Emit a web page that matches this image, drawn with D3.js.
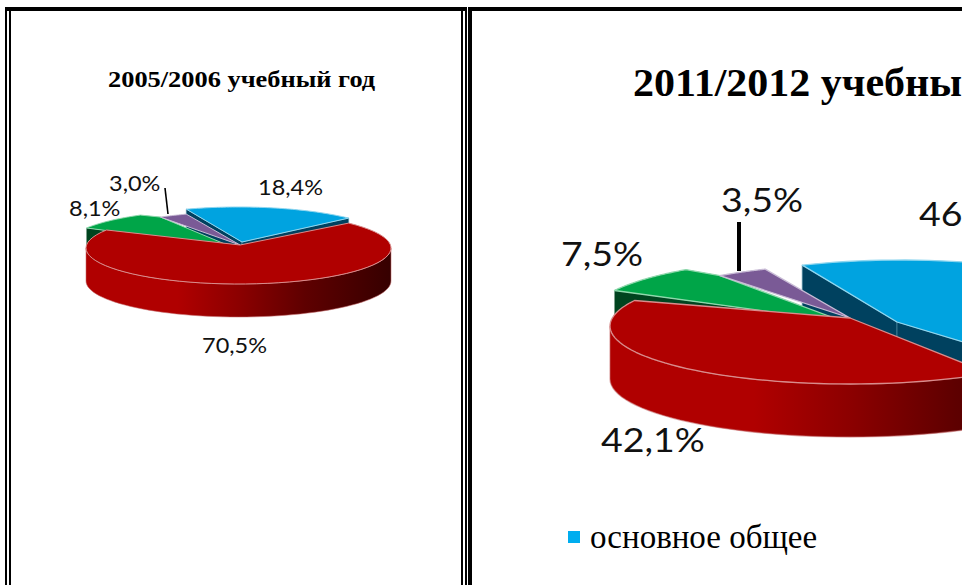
<!DOCTYPE html>
<html><head><meta charset="utf-8">
<style>html,body{margin:0;padding:0;background:#fff;overflow:hidden}svg{display:block}</style>
<script src="https://cdn.jsdelivr.net/npm/d3@7"></script></head>
<body><svg id="c" width="962" height="585"></svg>
<script>
const categories = ["основное общее","среднее общее","начальное проф.","среднее проф."];
const values2005 = [18.4, 70.5, 8.1, 3.0];
const values2011 = [46.9, 42.1, 7.5, 3.5];
const titles = ["2005/2006 учебный год","2011/2012 учебный год"];
const legendLabels = ["основное общее"];

const TOP = ["#00a3e0","#b00000","#00a548","#7a5a96"];
const WALL = ["#00415f","#7a0000","#00441f","#4f3a66"];
const EDGE = ["#8fd6ef","#d98c8c","#8fd8ac","#c9bcd6"];

const charts = [
 {id:"a", values:values2005, cx:238.5, cy:248, rx:152.5, ry:36, depth:33, apex:[240,245], start:-20,
  off:[[0,-5],[0,0],[-20,-2],[0,0]], apexOff:[[2,-3],[0,0],[-8,2],[0,0]], edge:1, lead:[[165,188],[168,214]], leadW:1.6,
  font:21, sx:1.12, labels:[[258,195],[202,353],[69,216],[109,191]]},
 {id:"b", values:values2011, cx:850, cy:326, rx:240, ry:58, depth:53, apex:[850,318], start:-24.3,
  off:[[51,-8],[0,0],[-20,-10],[14,-4]], apexOff:[[47,4],[0,0],[-5,4],[0,0]], edge:1.3, lead:[[739,222],[739,271]], leadW:4,
  font:33.5, sx:1.12, labels:[[919,226],[601,452],[561,266],[721,212]]}
];

const svg = d3.select("#c");
const defs = svg.append("defs");
const rad = d => d*Math.PI/180;
const fmt = v => d3.format(".1f")(v).replace(".",",")+"%";
const line = d3.line();

charts.forEach(c=>{
  const pie = d3.pie().sort(null).value(d=>d).startAngle(rad(c.start)).endAngle(rad(c.start+360));
  const arcs = pie(c.values);
  const rim = (a,o=[0,0],dz=0)=>[c.cx+o[0]+c.rx*Math.sin(a), c.cy+o[1]+dz-c.ry*Math.cos(a)];
  const apex = (o=[0,0],dz=0)=>[c.apex[0]+o[0], c.apex[1]+o[1]+dz];
  const rimPts = (a0,a1,o,dz)=>d3.range(0,61).map(i=>rim(a0+(a1-a0)*i/60,o,dz));
  const g = svg.append("g");

  const grad = defs.append("linearGradient").attr("id","grad"+c.id)
    .attr("gradientUnits","userSpaceOnUse")
    .attr("x1",c.cx-c.rx).attr("x2",c.cx+c.rx).attr("y1",0).attr("y2",0);
  [[0,"#b00000"],[.3,"#b00000"],[.5,"#8c0000"],[.72,"#5e0000"],[1,"#360000"]]
    .forEach(s=>grad.append("stop").attr("offset",s[0]).attr("stop-color",s[1]));

  const top = (i,extra=[])=>{
    const d=arcs[i];
    g.append("path").attr("d",line([apex(c.apexOff[i]),...rimPts(d.startAngle,d.endAngle,c.off[i]),...extra])+"Z")
      .attr("fill",TOP[i]).attr("stroke",EDGE[i]).attr("stroke-width",c.edge).attr("stroke-linejoin","round");
  };
  const cut = (i,a)=>{
    const o=c.off[i], p=c.apexOff[i];
    g.append("path").attr("d",line([apex(p),rim(a,o),rim(a,o,c.depth),apex(p,c.depth)])+"Z")
      .attr("fill",WALL[i]).attr("stroke","#4f8aa0").attr("stroke-width",i==0?.7:0);
  };
  cut(0,arcs[0].startAngle); cut(0,arcs[0].endAngle);
  cut(2,arcs[2].startAngle);
  // green reaches the near corner of its purple neighbour, so no gap opens between them
  top(2,[rim(arcs[3].startAngle,c.off[3])]);
  top(3); top(0);
  const a0=Math.PI/2, a1=Math.PI*1.5;
  g.append("path").attr("d",line([...rimPts(a0,a1,[0,0],0),...rimPts(a1,a0,[0,0],c.depth)])+"Z")
    .attr("fill","url(#grad"+c.id+")").attr("stroke","#c46a6a").attr("stroke-opacity",.55).attr("stroke-width",c.edge);
  top(1);

  g.append("line").attr("x1",c.lead[0][0]).attr("y1",c.lead[0][1]).attr("x2",c.lead[1][0]).attr("y2",c.lead[1][1])
    .attr("stroke","#000").attr("stroke-width",c.leadW);
  g.selectAll("text.l").data(c.values).join("text").attr("class","l")
    .attr("transform",(d,i)=>`translate(${c.labels[i][0]},${c.labels[i][1]}) scale(${c.sx},1)`)
    .attr("font-family","Lato, sans-serif").attr("font-size",c.font).attr("fill","#111")
    .text(fmt);
});

svg.append("text").attr("transform","translate(108,87) scale(1.1,1)").attr("font-family","'Liberation Serif',serif").attr("font-weight","bold")
  .attr("font-size",24).attr("fill","#000").text(titles[0]);
svg.append("text").attr("transform","translate(633,96) scale(1.05,1)").attr("font-family","'Liberation Serif',serif").attr("font-weight","bold")
  .attr("font-size",40).attr("fill","#000").text(titles[1]);

svg.selectAll("rect.lg").data(legendLabels).join("rect").attr("class","lg")
  .attr("x",568).attr("y",531).attr("width",12).attr("height",12).attr("fill","#00adef");
svg.selectAll("text.lg").data(legendLabels).join("text").attr("class","lg")
  .attr("x",590).attr("y",548).attr("font-family","'Liberation Serif',serif").attr("font-size",33).attr("fill","#000").text(d=>d);

const bar=(x,y,w,h)=>svg.append("rect").attr("x",x).attr("y",y).attr("width",w).attr("height",h).attr("fill","#000");
bar(5,7,462,4); bar(5,7,2,578); bar(9,7,2,578); bar(461,7,2,578); bar(465,7,2,578);
bar(468,7,494,4); bar(468,7,4,578);
</script></body></html>
